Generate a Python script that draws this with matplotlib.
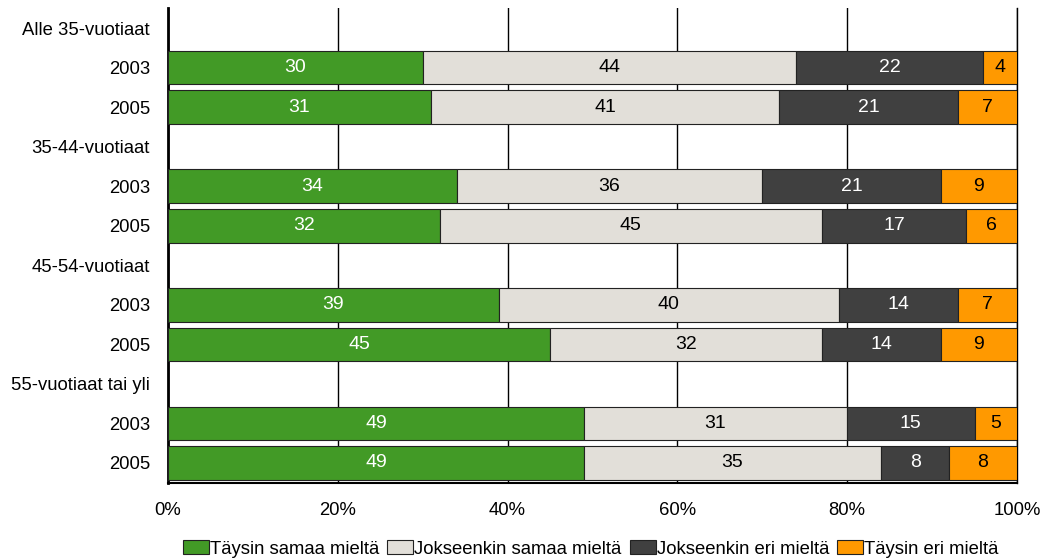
import matplotlib
matplotlib.use("Agg")
import matplotlib.pyplot as plt
from matplotlib.patches import Patch

plt.rcParams['font.family'] = ['Liberation Sans', 'DejaVu Sans']

# row labels top to bottom; group headers have no bar
row_labels = ["Alle 35-vuotiaat", "2003", "2005",
              "35-44-vuotiaat", "2003", "2005",
              "45-54-vuotiaat", "2003", "2005",
              "55-vuotiaat tai yli", "2003", "2005"]
series_names = ["Täysin samaa mieltä", "Jokseenkin samaa mieltä",
                "Jokseenkin eri mieltä", "Täysin eri mieltä"]
# None for header rows
taysin_samaa = [None, 30, 31, None, 34, 32, None, 39, 45, None, 49, 49]
jokseenkin_samaa = [None, 44, 41, None, 36, 45, None, 40, 32, None, 31, 35]
jokseenkin_eri = [None, 22, 21, None, 21, 17, None, 14, 14, None, 15, 8]
taysin_eri = [None, 4, 7, None, 9, 6, None, 7, 9, None, 5, 8]

colors = ["#429a26", "#e2dfd9", "#404040", "#ff9900"]
text_colors = ["white", "black", "white", "black"]
fs = 13.3

fig = plt.figure(figsize=(10.42, 5.6), dpi=100)
ax = fig.add_axes([0.1612, 0.138, 0.976 - 0.1612, 0.9853 - 0.138])

series = [taysin_samaa, jokseenkin_samaa, jokseenkin_eri, taysin_eri]
n = len(row_labels)
for i in range(n):
    left = 0
    for s, vals in enumerate(series):
        v = vals[i]
        if v is None:
            continue
        ax.barh(i, v, left=left, height=0.85, color=colors[s],
                edgecolor="#222222", linewidth=0.8, zorder=3)
        ax.text(left + v / 2, i, str(v), ha="center", va="center",
                color=text_colors[s], fontsize=fs + 0.7, zorder=4)
        left += v

ax.set_xlim(0, 100)
ax.set_ylim(n - 0.5, -0.5)
ax.set_yticks(range(n))
ax.set_yticklabels(row_labels, fontsize=fs)
ax.set_xticks([0, 20, 40, 60, 80, 100])
ax.set_xticklabels(["0%", "20%", "40%", "60%", "80%", "100%"], fontsize=fs)
ax.tick_params(length=0)
ax.tick_params(axis="x", pad=14)
ax.tick_params(axis="y", pad=13)
ax.grid(axis="x", color="black", linewidth=1, zorder=0)
ax.axvline(100, color="black", linewidth=1, zorder=0, clip_on=False)
for side in ["top", "right"]:
    ax.spines[side].set_visible(False)
ax.spines["left"].set_linewidth(2)
ax.spines["bottom"].set_linewidth(1.5)

handles = [Patch(facecolor=c, edgecolor="#222222", linewidth=0.8) for c in colors]
fig.legend(handles, series_names, loc="center", bbox_to_anchor=(0.567, 0.02),
           ncol=4, frameon=False, fontsize=fs, handlelength=1.4,
           handleheight=0.8, handletextpad=0.05, columnspacing=0.45)

fig.savefig("out.png", dpi=100)
